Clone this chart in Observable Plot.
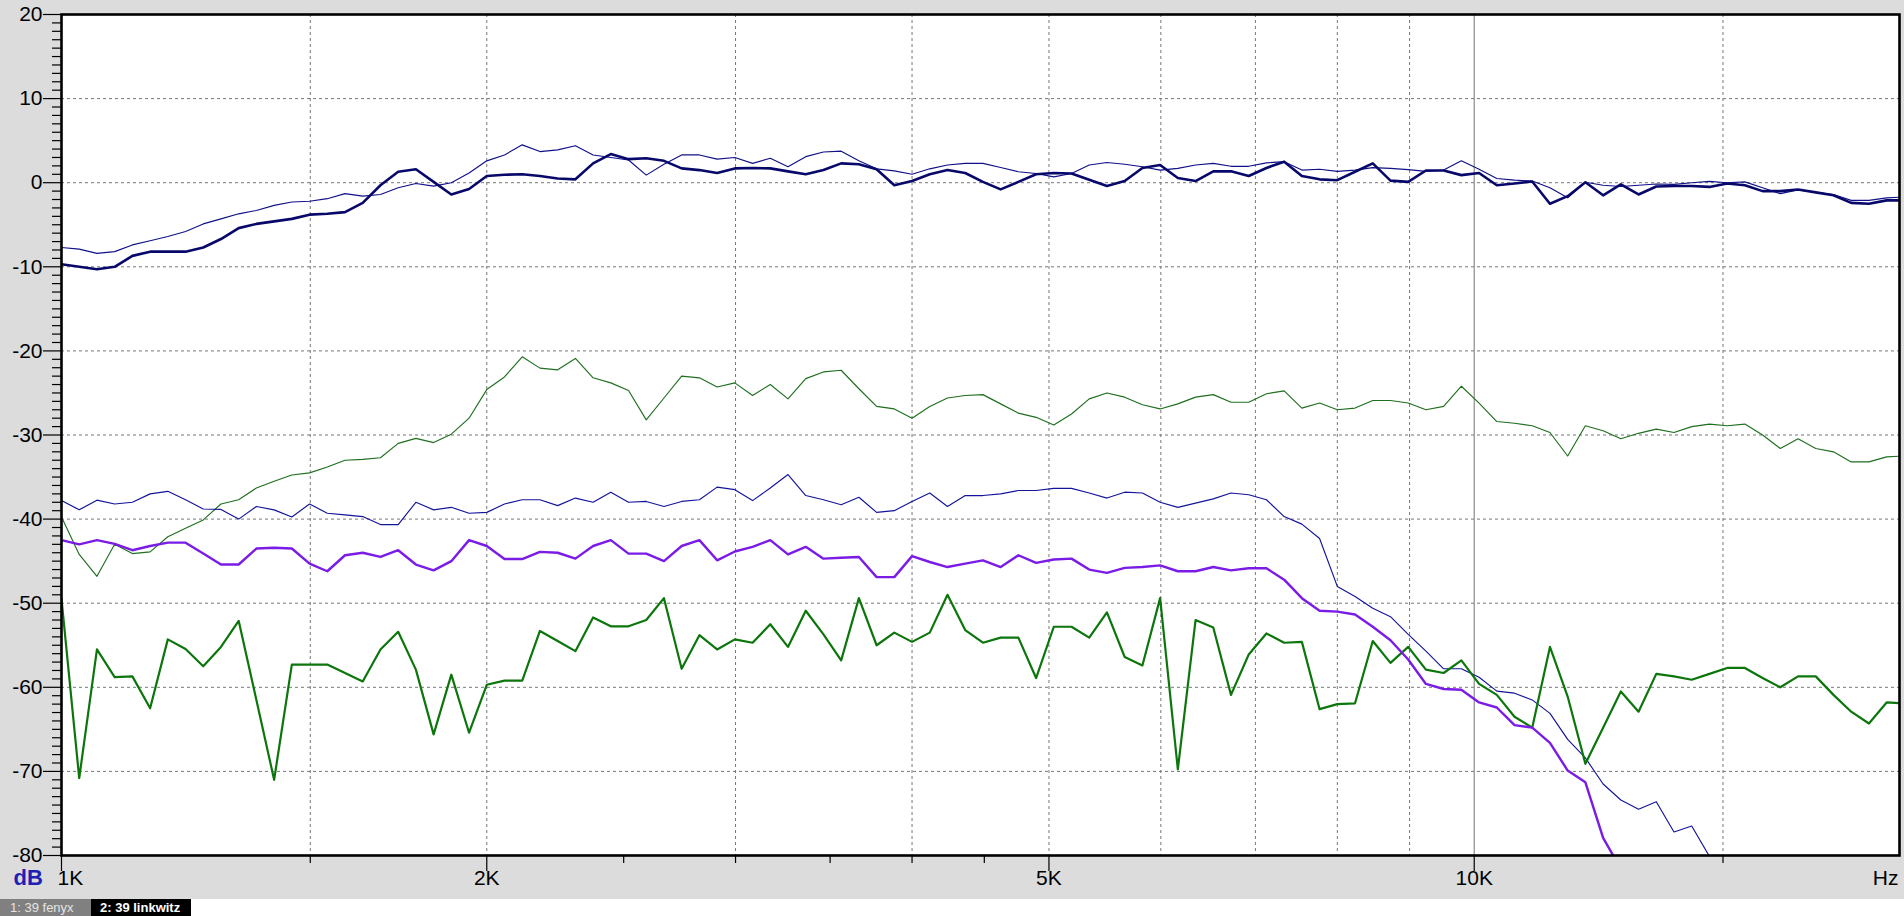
<!DOCTYPE html>
<html>
<head>
<meta charset="utf-8">
<script src="https://cdn.jsdelivr.net/npm/d3@7"></script>
<script src="https://cdn.jsdelivr.net/npm/@observablehq/plot@0.6"></script>
<style>
  html, body { margin: 0; padding: 0; background: #ffffff; width: 1904px; height: 916px; overflow: hidden; }
  #chart svg { display: block; }
  #tabs { height: 17px; display: flex; font-family: "Liberation Sans", Arial, sans-serif; font-size: 13px; line-height: 17px; }
  .tab1 { width: 91px; background: #808080; color: #e4e4e4; padding-left: 10px; box-sizing: border-box; }
  .tab2 { width: 100px; background: #000000; color: #ffffff; font-weight: bold; padding-left: 9px; box-sizing: border-box; }
</style>
</head>
<body>
<div id="chart"></div>
<div id="tabs"><div class="tab1">1: 39 fenyx</div><div class="tab2">2: 39 linkwitz</div></div>
<script>
// Frequencies (Hz), 1/24-octave points
const freqs = [
  1000, 1029.3, 1059.5, 1090.5, 1122.5, 1155.4, 1189.2, 1224.1, 1259.9, 1296.8, 1334.8, 1373.9,
  1414.2, 1455.6, 1498.3, 1542.2, 1587.4, 1633.9, 1681.8, 1731.1, 1781.8, 1834.0, 1887.7, 1943.1,
  2000, 2058.6, 2119.0, 2181.0, 2245.0, 2310.8, 2378.4, 2448.1, 2519.8, 2593.7, 2669.6, 2747.8,
  2828.4, 2911.3, 2996.6, 3084.4, 3174.8, 3267.8, 3363.6, 3462.2, 3563.6, 3668.0, 3775.5, 3886.1,
  4000, 4117.2, 4237.9, 4362.1, 4489.9, 4621.5, 4756.8, 4896.2, 5039.7, 5187.3, 5339.3, 5495.7,
  5656.9, 5822.6, 5993.2, 6168.8, 6349.6, 6535.6, 6727.1, 6924.2, 7127.1, 7335.9, 7550.9, 7772.1,
  8000, 8234.4, 8475.8, 8724.1, 8979.7, 9243.0, 9513.7, 9792.5, 10079.4, 10374.7, 10678.7, 10991.5,
  11313.7, 11645.2, 11986.4, 12337.6, 12699.2, 13071.3, 13454.3, 13848.5, 14254.3, 14671.9, 15101.8, 15544.3,
  16000, 16468.8, 16951.6, 17448.2, 17959.4, 18486.0, 19027.3, 19584.9, 20158.7
];

// Series values (dB)
const navyThick = [
  -9.7, -10.0, -10.3, -10.0, -8.7, -8.2, -8.2, -8.2, -7.7, -6.7, -5.4, -4.9, -4.6, -4.3, -3.8, -3.7, -3.5, -2.4,
  -0.3, 1.3, 1.6, 0.1, -1.4, -0.75, 0.8, 0.95, 1.0, 0.8, 0.5, 0.4, 2.3, 3.4, 2.8, 2.9, 2.6, 1.7,
  1.5, 1.15, 1.7, 1.75, 1.7, 1.35, 1.0, 1.5, 2.3, 2.2, 1.6, -0.3, 0.2, 1.0, 1.5, 1.15, 0.1, -0.8,
  0.1, 1.0, 1.15, 1.1, 0.35, -0.4, 0.2, 1.75, 2.1, 0.55, 0.2, 1.35, 1.35, 0.8, 1.75, 2.5,
  0.8, 0.4, 0.3, 1.3, 2.3, 0.25, 0.1, 1.45, 1.45, 0.9, 1.15, -0.3, -0.1, 0.15, -2.5, -1.6, 0.05, -1.5,
  -0.2, -1.4, -0.45, -0.4, -0.4, -0.5, -0.1, -0.3, -1.0, -1.0, -0.8, -1.15, -1.5, -2.4, -2.5, -2.1, -2.1
];
const navyThin = [
  -7.7, -7.9, -8.4, -8.2, -7.4, -6.9, -6.4, -5.8, -4.9, -4.3, -3.7, -3.3, -2.7, -2.3, -2.2, -1.9, -1.3, -1.6,
  -1.4, -0.6, -0.1, -0.4, 0.0, 1.15, 2.6, 3.3, 4.5, 3.7, 3.9, 4.4, 3.3, 3.0, 2.7, 0.9, 2.2, 3.3,
  3.3, 2.8, 3.0, 2.3, 2.9, 1.9, 3.1, 3.65, 3.75, 2.6, 1.65, 1.4, 1.0, 1.65, 2.1, 2.3, 2.3, 1.8,
  1.3, 1.1, 0.7, 1.1, 2.1, 2.4, 2.2, 1.9, 1.5, 1.7, 2.1, 2.3, 1.95, 1.95, 2.35, 2.5,
  1.5, 1.6, 1.35, 1.5, 1.8, 1.7, 1.55, 1.35, 1.5, 2.6, 1.6, 0.5, 0.3, 0.2, -0.6, -1.8, 0.05, -0.3,
  -0.45, -0.3, -0.15, -0.2, 0.0, 0.15, 0.0, 0.1, -0.6, -1.3, -0.85, -1.15, -1.4, -2.1, -2.1, -1.8, -1.7
];
const greenThin = [
  -39.75, -44.2, -46.8, -43.0, -44.1, -43.9, -42.1, -41.1, -40.1, -38.2, -37.7, -36.3, -35.5, -34.75, -34.5, -33.8, -33.0, -32.9,
  -32.7, -31.0, -30.4, -30.9, -29.9, -28.0, -24.6, -23.1, -20.7, -22.05, -22.25, -20.9, -23.2, -23.8, -24.7, -28.2, -25.6, -23.0,
  -23.2, -24.3, -23.8, -25.3, -24.0, -25.7, -23.3, -22.5, -22.3, -24.5, -26.6, -26.9, -28.0, -26.6, -25.6, -25.3, -25.2, -26.3,
  -27.4, -27.9, -28.8, -27.5, -25.7, -25.0, -25.5, -26.4, -26.9, -26.3, -25.5, -25.2, -26.1, -26.1, -25.1, -24.75,
  -26.8, -26.2, -27.0, -26.8, -25.9, -25.9, -26.2, -27.0, -26.6, -24.2, -26.2, -28.4, -28.6, -28.9, -29.7, -32.5, -28.9, -29.5,
  -30.45, -29.8, -29.3, -29.7, -29.0, -28.7, -28.9, -28.7, -30.0, -31.6, -30.45, -31.6, -32.0, -33.2, -33.2, -32.6, -32.5
];
const blueThin = [
  -37.8, -38.9, -37.75, -38.2, -38.0, -37.0, -36.7, -37.7, -38.8, -38.85, -40.0, -38.5, -38.9, -39.75, -38.2, -39.3, -39.5, -39.7,
  -40.65, -40.65, -38.0, -38.9, -38.6, -39.3, -39.2, -38.2, -37.7, -37.7, -38.4, -37.5, -38.0, -36.8, -38.0, -37.9, -38.5, -37.9,
  -37.7, -36.2, -36.5, -37.8, -36.3, -34.7, -37.2, -37.7, -38.3, -37.4, -39.2, -39.0, -37.9, -36.9, -38.5, -37.2, -37.2, -37.0,
  -36.6, -36.6, -36.35, -36.35, -36.9, -37.5, -36.8, -36.9, -38.0, -38.6, -38.1, -37.6, -36.9, -37.1, -37.7, -39.7,
  -40.6, -42.3, -48.0, -49.2, -50.6, -51.6, -53.7, -55.7, -57.8, -57.8, -58.8, -60.45, -60.7, -61.5, -63.1, -66.2, -68.4, -71.5,
  -73.4, -74.5, -73.6, -77.2, -76.5, -80.1, -83.0
];
const purpleThick = [
  -42.5, -43.0, -42.5, -42.95, -43.7, -43.2, -42.8, -42.8, -44.1, -45.4, -45.4, -43.5, -43.4, -43.5, -45.3, -46.2, -44.3, -44.0,
  -44.5, -43.7, -45.4, -46.1, -45.0, -42.5, -43.2, -44.75, -44.75, -43.9, -44.0, -44.7, -43.2, -42.5, -44.1, -44.1, -45.0, -43.2,
  -42.5, -44.9, -43.85, -43.3, -42.5, -44.2, -43.3, -44.7, -44.6, -44.5, -46.9, -46.9, -44.4, -45.1, -45.7, -45.3, -44.9, -45.7,
  -44.3, -45.2, -44.8, -44.7, -46.0, -46.4, -45.8, -45.7, -45.5, -46.2, -46.2, -45.7, -46.1, -45.85, -45.85, -47.2,
  -49.4, -50.9, -51.0, -51.35, -52.8, -54.4, -56.7, -59.6, -60.2, -60.3, -61.8, -62.4, -64.5, -64.8, -66.6, -69.9, -71.3, -77.9,
  -81.6, -86.0
];
const greenThick = [
  -49.5, -70.8, -55.5, -58.8, -58.7, -62.5, -54.3, -55.45, -57.5, -55.2, -52.1, -61.5, -71.0, -57.3, -57.3, -57.3, -58.3, -59.3,
  -55.5, -53.4, -57.9, -65.6, -58.5, -65.4, -59.7, -59.2, -59.2, -53.3, -54.5, -55.7, -51.7, -52.75, -52.75, -52.0, -49.4, -57.8,
  -53.8, -55.5, -54.3, -54.7, -52.5, -55.2, -50.9, -53.7, -56.8, -49.4, -55.0, -53.5, -54.6, -53.5, -49.0, -53.2, -54.7, -54.1,
  -54.1, -58.9, -52.8, -52.8, -54.1, -51.1, -56.4, -57.4, -49.4, -69.75, -52.0, -52.9, -60.9, -56.1, -53.6, -54.7,
  -54.6, -62.6, -62.0, -61.9, -54.5, -57.1, -55.2, -57.9, -58.3, -56.8, -59.6, -60.9, -63.5, -64.8, -55.2, -61.1, -69.1, -64.8,
  -60.5, -62.9, -58.4, -58.7, -59.1, -58.4, -57.7, -57.7, -58.9, -60.0, -58.7, -58.7, -60.9, -62.9, -64.3, -61.8, -61.9
];

// Axis definitions
const yLabelTicks = [20, 10, 0, -10, -20, -30, -40, -50, -60, -70, -80];
const yMinorTicks = [19,18,17,16,15,14,13,12,11,9,8,7,6,5,4,3,2,1,-1,-2,-3,-4,-5,-6,-7,-8,-9,
  -11,-12,-13,-14,-15,-16,-17,-18,-19,-21,-22,-23,-24,-25,-26,-27,-28,-29,-31,-32,-33,-34,-35,-36,-37,-38,-39,
  -41,-42,-43,-44,-45,-46,-47,-48,-49,-51,-52,-53,-54,-55,-56,-57,-58,-59,-61,-62,-63,-64,-65,-66,-67,-68,-69,
  -71,-72,-73,-74,-75,-76,-77,-78,-79];
const yGrid = [10, 0, -10, -20, -30, -40, -50, -60, -70];
const xGridDashed = [1500, 2000, 3000, 4000, 5000, 6000, 7000, 8000, 9000, 15000];
const xGridSolid = [10000];
const xMajorTicks = [1000, 2000, 5000, 10000];
const xMinorTicks = [1500, 2500, 3000, 3500, 4000, 4500, 15000];
const xFirstLabel = [{f: 1000, t: "1K"}];
const xOtherLabels = [{f: 2000, t: "2K"}, {f: 5000, t: "5K"}, {f: 10000, t: "10K"}];

const seriesDefs = [
  {name: "greenThin", vals: greenThin, color: "#1f6f1f", w: 1.15},
  {name: "blueThin", vals: blueThin, color: "#14149a", w: 1.15},
  {name: "navyThin", vals: navyThin, color: "#101088", w: 1.15},
  {name: "greenThick", vals: greenThick, color: "#0c760c", w: 2.2},
  {name: "purpleThick", vals: purpleThick, color: "#7a1be6", w: 2.4},
  {name: "navyThick", vals: navyThick, color: "#08086a", w: 2.6}
];

const lineMarks = seriesDefs.map(s =>
  Plot.line(s.vals.map((v, i) => ({f: freqs[i], db: v})), {
    x: "f", y: "db", stroke: s.color, strokeWidth: s.w, clip: true, curve: "linear"
  })
);

const chart = Plot.plot({
  width: 1904,
  height: 899,
  marginLeft: 61,
  marginRight: 5,
  marginTop: 14,
  marginBottom: 44,
  x: {type: "log", domain: [1000, 20000]},
  y: {domain: [-80, 20]},
  style: {background: "#dcdcdc", fontFamily: "'Liberation Sans', Arial, sans-serif", overflow: "visible", color: "#000"},
  marks: [
    Plot.frame({fill: "white"}),
    Plot.ruleY(yGrid, {stroke: "#777", strokeWidth: 1, strokeDasharray: "3,3"}),
    Plot.ruleX(xGridDashed, {stroke: "#777", strokeWidth: 1, strokeDasharray: "3,3"}),
    Plot.ruleX(xGridSolid, {stroke: "#8c8c8c", strokeWidth: 1.2}),
    ...lineMarks,
    Plot.frame({stroke: "black", strokeWidth: 2.6}),
    Plot.axisY({ticks: yLabelTicks, tickSize: 18, tickPadding: 1, fontSize: 21, tickFormat: d => String(d), stroke: "black", strokeWidth: 1.2, label: null}),
    Plot.axisY({ticks: yMinorTicks, tickSize: 9, tickFormat: () => "", stroke: "black", strokeWidth: 1.2, label: null}),
    Plot.axisX({ticks: xMajorTicks, tickSize: 16, tickFormat: () => "", stroke: "black", strokeWidth: 1.2, label: null}),
    Plot.axisX({ticks: xMinorTicks, tickSize: 8, tickFormat: () => "", stroke: "black", strokeWidth: 1.2, label: null}),
    Plot.text(xOtherLabels, {x: "f", text: "t", frameAnchor: "bottom", dy: 29, fontSize: 21, fill: "black"}),
    Plot.text(xFirstLabel, {x: "f", text: "t", frameAnchor: "bottom", dy: 29, dx: -4, textAnchor: "start", fontSize: 21, fill: "black"}),
    Plot.text(["Hz"], {text: d => d, frameAnchor: "bottom-right", dy: 29, dx: -1, textAnchor: "end", fontSize: 21, fill: "black"}),
    Plot.text(["dB"], {text: d => d, frameAnchor: "bottom-left", dy: 29, dx: -48, textAnchor: "start", fontSize: 22, fontWeight: "bold", fill: "#1f1fb4"})
  ]
});

document.getElementById("chart").appendChild(chart);
</script>
</body>
</html>
